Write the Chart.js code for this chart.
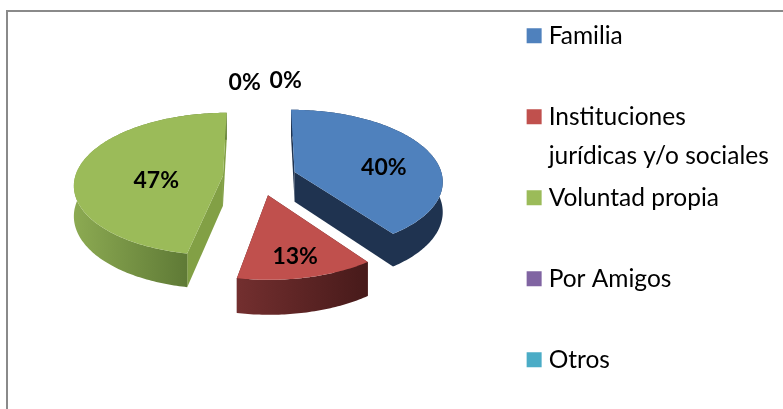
<!DOCTYPE html>
<html>
<head>
<meta charset="utf-8">
<style>
html,body{margin:0;padding:0;background:#fff;overflow:hidden;width:783px;height:409px}
#wrap{position:absolute;left:0;top:-33px;width:783px;height:470px}
#frame{position:absolute;left:6px;top:10px;width:777px;height:399px;border-left:2px solid #8a8a8a;border-top:2px solid #8a8a8a;box-sizing:border-box}
</style>
<script src="https://cdn.jsdelivr.net/npm/chart.js@4/dist/chart.umd.js"></script>
</head>
<body>
<div id="wrap"><canvas id="c" width="783" height="470"></canvas></div>
<div id="frame"></div>
<script>
const categories = ['Familia', 'Instituciones jurídicas y/o sociales', 'Voluntad propia', 'Por Amigos', 'Otros'];
const legendLines = [['Familia'], ['Instituciones', 'jurídicas y/o sociales'], ['Voluntad propia'], ['Por Amigos'], ['Otros']];
const values = [40, 13, 47, 0, 0];
const topColors = ['#4f81bd', '#c0504d', '#9bbb59', '#8064a2', '#4bacc6'];
const rimLeft = ['#1f3350', '#732f2f', '#8caa52', '#4d3c62', '#2d6777'];
const rimRight = ['#1f3350', '#471a1a', '#5f7a36', '#4d3c62', '#2d6777'];
const faceColors = ['#1f3350', '#5a2424', '#82a045', '#4d3c62', '#2d6777'];
const labelNudgeX = [4, 4, 25, -15, 26];
const labelNudgeY = [9, 11.5, 8.5, -38, -40];

const TILT = 0.477, PERSP = 0.114, DEPTH = 30, LABEL_R = 0.63, LINE_GAP = 39, CENTER_SHIFT_Y = -24.5;
const FONT = 'Lato, Carlito, Calibri, sans-serif';

function project(el, u, v, d) {
  const w = 1 / (1 - PERSP * v / el.outerRadius);
  return [el.x + u * w, el.y + CENTER_SHIFT_Y + TILT * v * w + (d || 0) * w];
}
function polyPath(ctx, pts) {
  ctx.beginPath();
  pts.forEach((p, i) => i ? ctx.lineTo(p[0], p[1]) : ctx.moveTo(p[0], p[1]));
  ctx.closePath();
}
Chart.ArcElement.prototype.draw = function (ctx) {
  if (!(this.circumference > 0)) return;
  const i = this.$context.dataIndex;
  const R = this.outerRadius, off = this.options.offset || 0;
  const mid = (this.startAngle + this.endAngle) / 2;
  const ox = Math.cos(mid) * off, oy = Math.sin(mid) * off;
  const rim = [];
  const n = Math.max(8, Math.ceil(this.circumference * 60));
  for (let s = 0; s <= n; s++) {
    const a = this.startAngle + (this.endAngle - this.startAngle) * s / n;
    rim.push([ox + Math.cos(a) * R, oy + Math.sin(a) * R]);
  }
  const A = project(this, ox, oy, 0), Ad = project(this, ox, oy, DEPTH);
  const first = rim[0], last = rim[rim.length - 1];
  ctx.save();
  // radial side faces
  ctx.fillStyle = faceColors[i];
  [first, last].forEach(q => {
    polyPath(ctx, [A, project(this, q[0], q[1], 0), project(this, q[0], q[1], DEPTH), Ad]);
    ctx.fill();
  });
  // outer rim wall
  const topPts = rim.map(q => project(this, q[0], q[1], 0));
  const lowPts = rim.map(q => project(this, q[0], q[1], DEPTH)).reverse();
  const xs = topPts.map(p => p[0]);
  const low = rim.filter(q => Math.sin(Math.atan2(q[1] - oy, q[0] - ox)) > -0.02).map(q => project(this, q[0], q[1], 0)[0]);
  const g = ctx.createLinearGradient(Math.min(...xs), 0, Math.min(Math.max(...xs), low.length ? Math.max(...low) : Infinity), 0);
  g.addColorStop(0, rimLeft[i]);
  g.addColorStop(1, rimRight[i]);
  ctx.fillStyle = g;
  polyPath(ctx, topPts.concat(lowPts));
  ctx.fill();
  // top face
  ctx.fillStyle = this.options.backgroundColor;
  polyPath(ctx, [A].concat(topPts));
  ctx.fill();
  ctx.restore();
};

const legendSecondLine = {
  id: 'legendSecondLine',
  afterDraw(chart) {
    const lg = chart.legend, o = lg.options.labels, size = o.font.size;
    const ctx = chart.ctx;
    ctx.save();
    ctx.font = size + 'px ' + FONT;
    ctx.fillStyle = o.color;
    ctx.textAlign = 'left';
    ctx.textBaseline = 'middle';
    legendLines.forEach((lines, i) => {
      const h = lg.legendHitBoxes[i];
      for (let l = 1; l < lines.length; l++) {
        ctx.fillText(lines[l], h.left + o.boxWidth + size / 2, h.top + size / 2 + l * LINE_GAP);
      }
    });
    ctx.restore();
  }
};
const pctLabels = {
  id: 'pctLabels',
  afterDatasetsDraw(chart) {
    const ctx = chart.ctx, arcs = chart.getDatasetMeta(0).data;
    const total = values.reduce((a, b) => a + b, 0);
    ctx.save();
    ctx.font = 'bold 23px ' + FONT;
    ctx.fillStyle = '#000';
    ctx.textAlign = 'center';
    ctx.textBaseline = 'middle';
    arcs.forEach((el, i) => {
      const mid = (el.startAngle + el.endAngle) / 2;
      const r = (el.options.offset || 0) + LABEL_R * el.outerRadius;
      const p = project(el, Math.cos(mid) * r, Math.sin(mid) * r, 0);
      ctx.fillText(Math.round(values[i] / total * 100) + '%', p[0] + labelNudgeX[i], p[1] + labelNudgeY[i]);
    });
    ctx.restore();
  }
};

new Chart(document.getElementById('c'), {
  type: 'pie',
  data: {
    labels: categories,
    datasets: [{
      data: values,
      backgroundColor: topColors,
      borderWidth: 0,
      offset: 37,
      hoverOffset: 0,
      radius: 148,
      clip: false
    }]
  },
  plugins: [pctLabels, legendSecondLine],
  options: {
    responsive: false,
    animation: false,
    events: [],
    layout: { padding: { left: 44, right: 54, top: 0, bottom: 0 } },
    plugins: {
      tooltip: { enabled: false },
      title: { display: false },
      legend: {
        display: true,
        position: 'right',
        align: 'start',
        onClick: null,
        labels: {
          font: { size: 24.5, family: FONT },
          color: '#000',
          padding: 56.5,
          usePointStyle: true,
          boxWidth: 4.5,
          boxHeight: 15,
          generateLabels() {
            return legendLines.map((lines, i) => ({
              text: lines[0],
              fillStyle: topColors[i],
              strokeStyle: topColors[i],
              lineWidth: 0,
              pointStyle: 'rect',
              index: i
            }));
          }
        }
      }
    }
  }
});
</script>
</body>
</html>
